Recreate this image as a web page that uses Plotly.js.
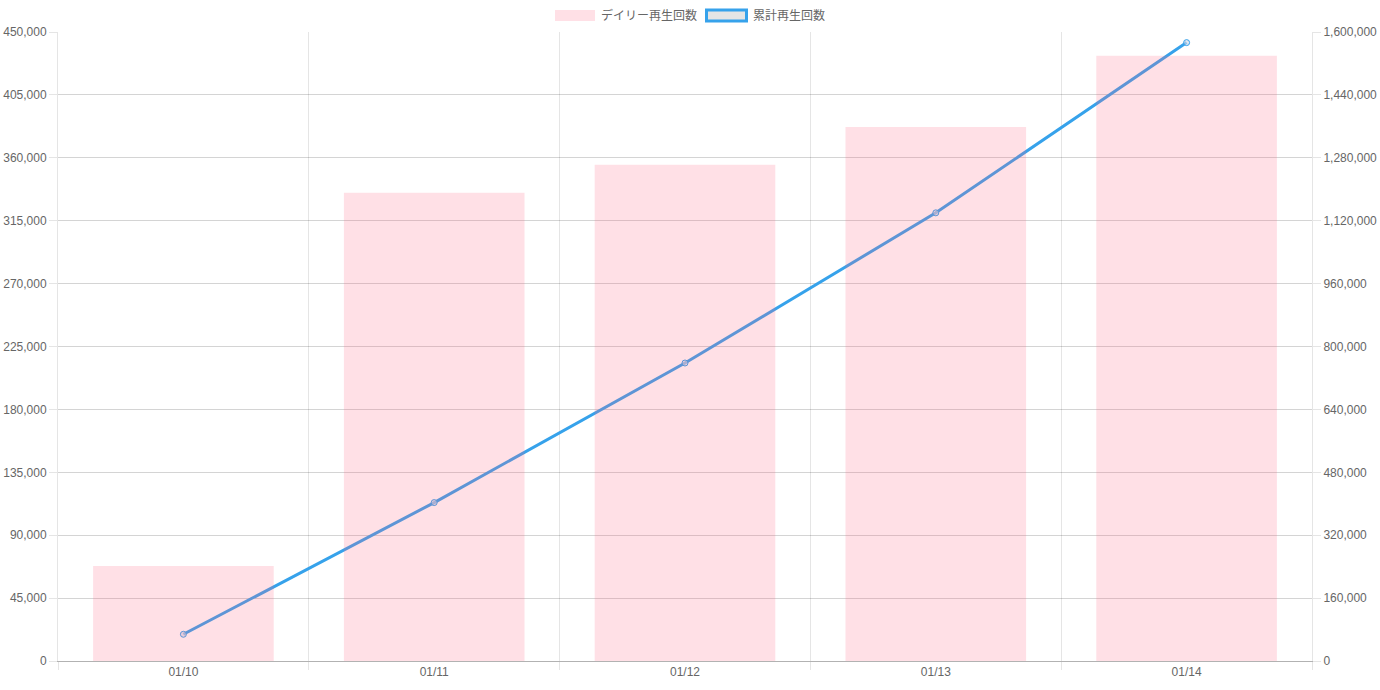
<!DOCTYPE html>
<html><head><meta charset="utf-8">
<script src="https://cdn.plot.ly/plotly-3.0.1.min.js"></script>
<style>html,body{margin:0;padding:0;background:#fff;}#chart{width:1380px;height:690px;}</style>
</head><body><div id="chart"></div>
<script>
const categories = ["01/10", "01/11", "01/12", "01/13", "01/14"];
const dailyPlays = [68000, 335000, 355000, 382000, 433000];
const cumulativePlays = [68000, 403000, 758000, 1140000, 1573000];
const seriesNames = ["デイリー再生回数", "累計再生回数"];

const W = 1380, H = 690;
const M = {l: 58, r: 68, t: 32, b: 29};
const pw = W - M.l - M.r, ph = H - M.t - M.b;
const px = x => (x - M.l) / pw;
const py = y => (H - M.b - y) / ph;

const FONT = '"Liberation Sans", Arial, "Noto Sans CJK JP", sans-serif';
const grid = 'rgba(0,0,0,0.1)';
const hgrid = 'rgba(0,0,0,0.17)';

const lineTrace = {
  type: 'scatter', mode: 'lines+markers', name: seriesNames[1],
  x: categories, y: cumulativePlays, yaxis: 'y',
  line: {color: '#36a2eb', width: 3},
  marker: {size: 6, color: 'rgba(210,215,230,0.6)', line: {color: '#36a2eb', width: 1}},
  hoverinfo: 'y'
};
const barTrace = {
  type: 'bar', name: seriesNames[0],
  x: categories, y: dailyPlays, yaxis: 'y2',
  marker: {color: 'rgba(255,99,132,0.2)', line: {width: 0}},
  hoverinfo: 'y'
};

const layout = {
  width: W, height: H,
  margin: M,
  paper_bgcolor: '#fff', plot_bgcolor: '#fff',
  showlegend: false,
  bargap: 0.28,
  font: {family: FONT, size: 12, color: '#666'},
  xaxis: {
    type: 'category', tickson: 'boundaries', ticks: 'outside', ticklen: 8,
    tickcolor: grid, showgrid: true, gridcolor: grid, gridwidth: 1,
    showline: true, linecolor: 'rgba(0,0,0,0.3)', linewidth: 1,
    tickfont: {family: FONT, size: 12, color: '#666'},
    range: [-0.5, 4.5], fixedrange: true
  },
  yaxis: {
    side: 'right', range: [0, 1600000], dtick: 160000, tick0: 0,
    tickformat: ',d', ticks: 'outside', ticklen: 8, tickcolor: grid,
    showgrid: true, gridcolor: hgrid, zeroline: false,
    showline: true, linecolor: grid, linewidth: 1,
    tickfont: {family: FONT, size: 12, color: '#666'}
  },
  yaxis2: {
    overlaying: 'y', side: 'left', range: [0, 450000], dtick: 45000, tick0: 0,
    tickformat: ',d', ticks: 'outside', ticklen: 8, tickcolor: grid,
    showgrid: false, zeroline: false,
    showline: true, linecolor: grid, linewidth: 1,
    tickfont: {family: FONT, size: 12, color: '#666'}
  },
  shapes: [
    {type: 'rect', xref: 'paper', yref: 'paper', x0: px(555), x1: px(595), y0: py(21), y1: py(10),
     fillcolor: 'rgba(255,99,132,0.2)', line: {width: 0}},
    {type: 'rect', xref: 'paper', yref: 'paper', x0: px(706.5), x1: px(746.5), y0: py(21), y1: py(10),
     fillcolor: 'rgba(0,0,0,0.1)', line: {color: '#36a2eb', width: 3}}
  ],
  annotations: [
    {xref: 'paper', yref: 'paper', x: px(599), y: py(15.5), xanchor: 'left', yanchor: 'middle',
     text: seriesNames[0], showarrow: false, font: {family: FONT, size: 12, color: '#666'}},
    {xref: 'paper', yref: 'paper', x: px(751), y: py(15.5), xanchor: 'left', yanchor: 'middle',
     text: seriesNames[1], showarrow: false, font: {family: FONT, size: 12, color: '#666'}}
  ]
};

Plotly.newPlot('chart', [lineTrace, barTrace], layout, {displayModeBar: false, staticPlot: true});
</script></body></html>
